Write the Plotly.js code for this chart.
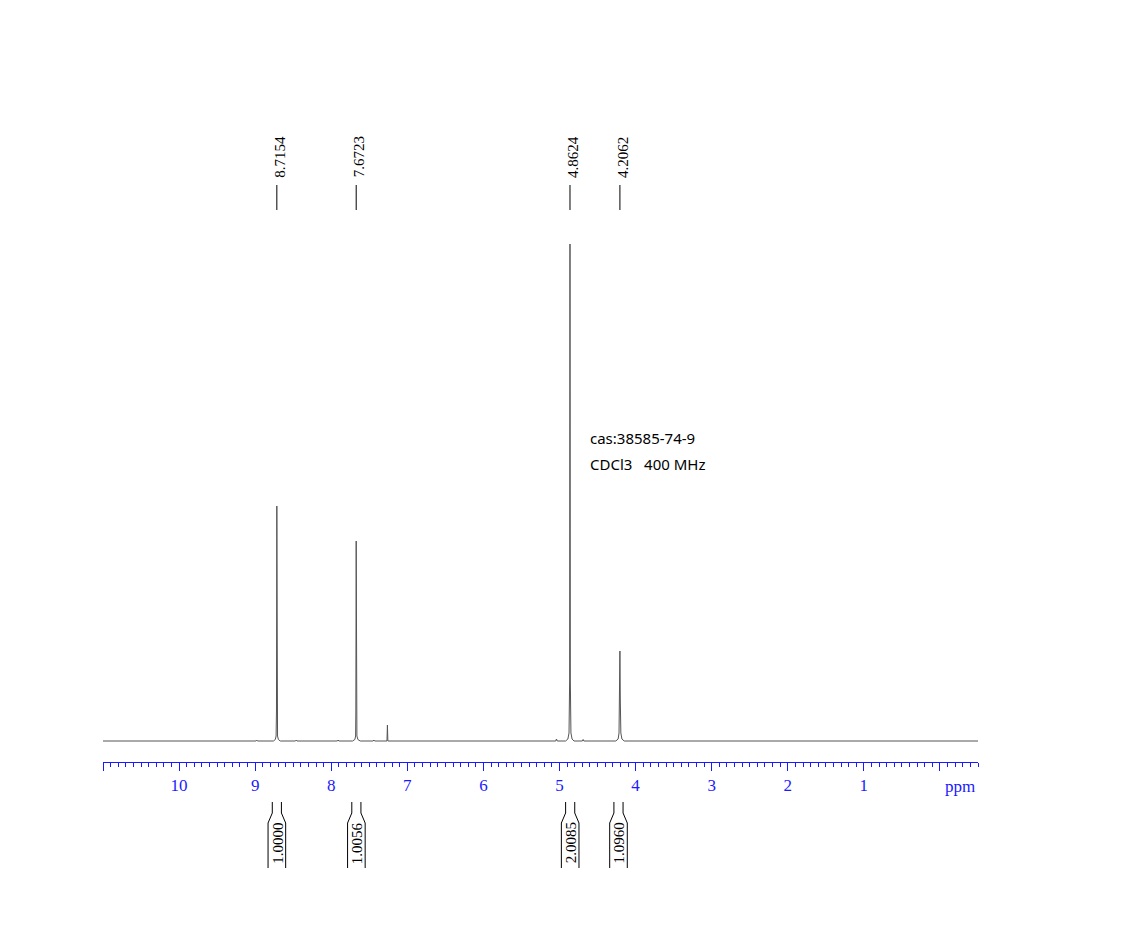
<!DOCTYPE html>
<html>
<head>
<meta charset="utf-8">
<script src="https://cdn.plot.ly/plotly-3.0.1.min.js"></script>
<style>html,body{margin:0;padding:0;background:#fff;}</style>
</head>
<body>
<div id="chart" style="width:1135px;height:952px;"></div>
<script>
// Spectrum trace (ppm, intensity in arbitrary units)
const spectrumPpm = [11.0, 8.99, 8.98, 8.97,
  8.76, 8.735, 8.725, 8.72, 8.7154, 8.711, 8.706, 8.695, 8.67,
  8.47, 8.46, 8.45,
  7.92, 7.91, 7.90,
  7.72, 7.69, 7.68, 7.677, 7.6723, 7.668, 7.663, 7.65, 7.62,
  7.45, 7.44, 7.43,
  7.268, 7.262, 7.256,
  5.05, 5.04, 5.03,
  4.92, 4.89, 4.875, 4.867, 4.8624, 4.858, 4.85, 4.835, 4.81,
  4.70, 4.69, 4.68,
  4.26, 4.23, 4.218, 4.212, 4.2062, 4.201, 4.194, 4.18, 4.15,
  -0.5];
const spectrumIntensity = [0, 0, 1, 0,
  0, 1.5, 5, 30, 235, 30, 5, 1.5, 0,
  0, 1, 0,
  0, 1, 0,
  0, 1.5, 5, 28, 200, 28, 5, 1.5, 0,
  0, 1, 0,
  0, 16, 0,
  0, 2, 0,
  0, 2, 8, 60, 497, 60, 8, 2, 0,
  0, 1.5, 0,
  0, 2, 8, 40, 90, 40, 8, 2, 0,
  0];

// Peak picking labels
const peakPpm = [8.7154, 7.6723, 4.8624, 4.2062];
const peakLabels = ["8.7154", "7.6723", "4.8624", "4.2062"];

// Integrals
const integralFrom = [8.775, 7.73, 4.92, 4.285];
const integralTo = [8.655, 7.61, 4.80, 4.165];
const integralValues = ["1.0000", "1.0056", "2.0085", "1.0960"];

// Axis ticks
const tickValues = [0, 1, 2, 3, 4, 5, 6, 7, 8, 9, 10, 11];
const tickLabels = ["", "1", "2", "3", "4", "5", "6", "7", "8", "9", "10", ""];

const infoLines = ["cas:38585-74-9", "CDCl3&nbsp;&nbsp;&nbsp;400 MHz"];

// layout geometry helpers (pixels -> paper)
const T = 100, B = 190, H = 952;
const plotH = H - T - B;
const bottomPx = H - B;
function py(px) { return (bottomPx - px) / plotH; }

const shapes = [];
const annotations = [];
const serif = 'Liberation Serif, Times New Roman, serif';

peakPpm.forEach((p, i) => {
  shapes.push({type: 'line', xref: 'x', yref: 'paper', x0: p, x1: p,
    y0: py(210), y1: py(185), line: {color: '#000', width: 1}});
  annotations.push({xref: 'x', yref: 'paper', x: p, y: py(157), xshift: 3,
    xanchor: 'center', yanchor: 'middle',
    text: peakLabels[i], textangle: -90, showarrow: false,
    font: {family: serif, size: 15, color: '#000'}});
});

const pxPerPpm = 875 / 11.5;
integralFrom.forEach((f, i) => {
  const t = integralTo[i];
  const c = (f + t) / 2;
  const wide = 8.8 / pxPerPpm;
  const yTop = py(802), yF1 = py(813), yF2 = py(823), yBot = py(868);
  shapes.push({type: 'path', xref: 'x', yref: 'paper',
    path: `M ${f} ${yTop} L ${f} ${yF1} L ${c + wide} ${yF2} L ${c + wide} ${yBot}`,
    line: {color: '#000', width: 1}});
  shapes.push({type: 'path', xref: 'x', yref: 'paper',
    path: `M ${t} ${yTop} L ${t} ${yF1} L ${c - wide} ${yF2} L ${c - wide} ${yBot}`,
    line: {color: '#000', width: 1}});
  annotations.push({xref: 'x', yref: 'paper', x: c, y: py(843), xshift: 1,
    xanchor: 'center', yanchor: 'middle',
    text: integralValues[i], textangle: -90, showarrow: false,
    font: {family: serif, size: 15, color: '#000'}});
});

annotations.push({xref: 'x', yref: 'paper', x: -0.26, y: py(786),
  xanchor: 'center', yanchor: 'middle',
  text: 'ppm', showarrow: false,
  font: {family: serif, size: 17, color: '#1a1aff'}});

annotations.push({xref: 'paper', yref: 'paper', x: (588 - 103) / 875, y: py(438),
  xanchor: 'left', yanchor: 'middle', text: infoLines[0], showarrow: false,
  font: {family: 'Noto Sans, sans-serif', size: 15, color: '#000'}});
annotations.push({xref: 'paper', yref: 'paper', x: (588 - 103) / 875, y: py(464),
  xanchor: 'left', yanchor: 'middle', text: infoLines[1], showarrow: false,
  font: {family: 'Noto Sans, sans-serif', size: 15, color: '#000'}});

const trace = {
  x: spectrumPpm, y: spectrumIntensity, type: 'scatter', mode: 'lines',
  line: {color: '#555555', width: 1}, hoverinfo: 'skip', showlegend: false
};

const layout = {
  width: 1135, height: 952,
  margin: {l: 103, r: 157, t: T, b: B},
  paper_bgcolor: '#ffffff', plot_bgcolor: '#ffffff',
  showlegend: false,
  xaxis: {
    range: [11.0, -0.5], showgrid: false, zeroline: false,
    showline: true, linecolor: '#1a1aff', linewidth: 1,
    ticks: 'outside', ticklen: 8, tickwidth: 1, tickcolor: '#1a1aff',
    tickmode: 'array', tickvals: tickValues, ticktext: tickLabels,
    tickfont: {family: serif, size: 17, color: '#1a1aff'},
    minor: {dtick: 0.1, tick0: 0, ticks: 'outside', ticklen: 4, tickcolor: '#1a1aff', tickwidth: 1, showgrid: false}
  },
  yaxis: {range: [-21, 641], visible: false, showgrid: false, zeroline: false},
  shapes: shapes,
  annotations: annotations
};

Plotly.newPlot('chart', [trace], layout, {displayModeBar: false, staticPlot: true});
</script>
</body>
</html>
